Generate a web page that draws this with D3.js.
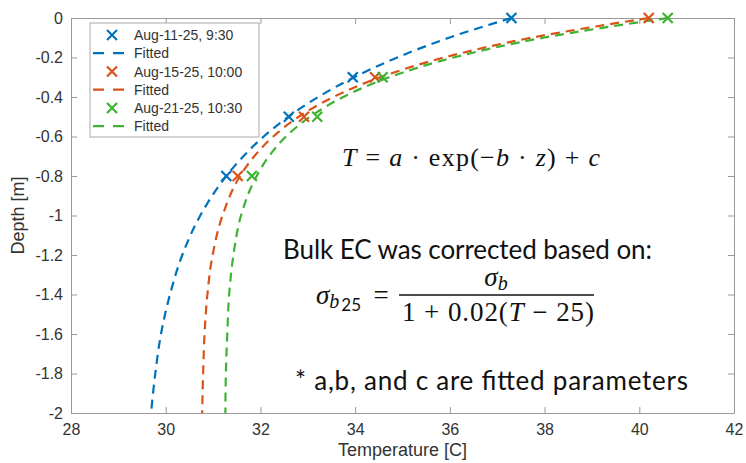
<!DOCTYPE html>
<html lang="en">

<head>
    <meta charset="utf-8">
    <title>Depth vs temperature</title>
    <script src="https://d3js.org/d3.v7.min.js"></script>
    <style type="text/css">
        body { margin: 0; background: #fff; }
        text { font-family: "Liberation Sans", Arial, sans-serif; }
    </style>
</head>

<body>
    <script type="text/javascript">

        // measured profiles (temperature C, depth m)
        var seriesNames = ["Aug-11-25, 9:30", "Aug-15-25, 10:00", "Aug-21-25, 10:30"];
        var colors = ["#0072BD", "#D95319", "#3FB234"];
        var depths = [0, -0.3, -0.5, -0.8];
        var tempAug11 = [37.3, 33.95, 32.6, 31.28];
        var tempAug15 = [40.2, 34.42, 32.92, 31.52];
        var tempAug21 = [40.6, 34.58, 33.2, 31.82];

        // fitted curves
        var fitDepths = [0, -0.1, -0.2, -0.3, -0.4, -0.5, -0.6, -0.7, -0.8, -1.0, -1.2, -1.4, -1.6, -1.8, -2.0];
        var fitAug11 = [37.30, 35.98, 34.89, 33.98, 33.22, 32.59, 32.07, 31.64, 31.28, 30.73, 30.35, 30.09, 29.90, 29.78, 29.69];
        var fitAug15 = [40.20, 37.72, 35.88, 34.53, 33.54, 32.81, 32.27, 31.87, 31.57, 31.20, 30.99, 30.88, 30.82, 30.79, 30.77];
        var fitAug21 = [40.60, 37.97, 36.08, 34.72, 33.75, 33.05, 32.54, 32.18, 31.92, 31.59, 31.43, 31.34, 31.30, 31.27, 31.26];

        var xTicks = [28, 30, 32, 34, 36, 38, 40, 42];
        var yTicks = [0, -0.2, -0.4, -0.6, -0.8, -1, -1.2, -1.4, -1.6, -1.8, -2];

        var w = 746;
        var h = 463;
        // plot box
        var pLeft = 71, pRight = 734, pTop = 18, pBottom = 413;

        var measured = [tempAug11, tempAug15, tempAug21];
        var fitted = [fitAug11, fitAug15, fitAug21];

        var svg = d3.select("body")
            .append("svg")
            .attr("width", w)
            .attr("height", h);

        var x = d3.scaleLinear().domain([28, 42]).range([pLeft, pRight]);
        var y = d3.scaleLinear().domain([-2, 0]).range([pBottom, pTop]);

        // axes (ticks inward, box on)
        var axisColor = "#999";
        var textColor = "#333";

        function styleAxis(g) {
            g.select(".domain").attr("stroke", axisColor);
            g.selectAll(".tick line").attr("stroke", axisColor);
            g.selectAll(".tick text").attr("fill", textColor)
                .style("font-size", "16px")
                .style("font-family", "'Liberation Sans', Arial, sans-serif");
        }

        svg.append("g")
            .attr("transform", "translate(0," + pBottom + ")")
            .call(d3.axisBottom(x).tickValues(xTicks).tickSizeInner(-6).tickSizeOuter(0).tickPadding(11)
                .tickFormat(d3.format("d")))
            .call(styleAxis);

        svg.append("g")
            .attr("transform", "translate(0," + pTop + ")")
            .call(d3.axisTop(x).tickValues(xTicks).tickSizeInner(-6).tickSizeOuter(0).tickFormat(""))
            .call(styleAxis);

        svg.append("g")
            .attr("transform", "translate(" + pLeft + ",0)")
            .call(d3.axisLeft(y).tickValues(yTicks).tickSizeInner(-6).tickSizeOuter(0).tickPadding(8)
                .tickFormat(function (d) { return d === 0 ? "0" : String(d); }))
            .call(styleAxis);

        svg.append("g")
            .attr("transform", "translate(" + pRight + ",0)")
            .call(d3.axisRight(y).tickValues(yTicks).tickSizeInner(-6).tickSizeOuter(0).tickFormat(""))
            .call(styleAxis);

        svg.append("text")
            .attr("x", (pLeft + pRight) / 2)
            .attr("y", 456)
            .attr("text-anchor", "middle")
            .attr("fill", textColor)
            .style("font-size", "18px")
            .text("Temperature [C]");

        svg.append("text")
            .attr("transform", "translate(24," + ((pTop + pBottom) / 2) + ") rotate(-90)")
            .attr("text-anchor", "middle")
            .attr("fill", textColor)
            .style("font-size", "18px")
            .text("Depth [m]");

        var line = d3.line()
            .x(function (d) { return x(d[0]); })
            .y(function (d) { return y(d[1]); })
            .curve(d3.curveMonotoneY);

        function cross(g, cx, cy, color, s) {
            g.append("path")
                .attr("d", "M" + (cx - s) + "," + (cy - s) + "L" + (cx + s) + "," + (cy + s) +
                    "M" + (cx - s) + "," + (cy + s) + "L" + (cx + s) + "," + (cy - s))
                .attr("stroke", color)
                .attr("stroke-width", 2.2)
                .attr("fill", "none");
        }

        var plot = svg.append("g");

        for (var i = 0; i < 3; i++) {
            var pts = fitDepths.map(function (d, k) { return [fitted[i][k], d]; });
            plot.append("path")
                .datum(pts)
                .attr("d", line)
                .attr("fill", "none")
                .attr("stroke", colors[i])
                .attr("stroke-width", 2.2)
                .attr("stroke-dasharray", "9,6");
        }

        for (var i = 0; i < 3; i++) {
            for (var k = 0; k < depths.length; k++) {
                cross(plot, x(measured[i][k]), y(depths[k]), colors[i], 5);
            }
        }

        // legend
        var lg = svg.append("g");
        lg.append("rect")
            .attr("x", 90).attr("y", 23)
            .attr("width", 169).attr("height", 114)
            .attr("fill", "#fff")
            .attr("stroke", "#aaa")
            .attr("stroke-width", 1);

        for (var i = 0; i < 3; i++) {
            var ym = 35 + i * 36.5;
            var yf = ym + 18.2;
            cross(lg, 112, ym, colors[i], 5);
            lg.append("line")
                .attr("x1", 93).attr("x2", 126)
                .attr("y1", yf).attr("y2", yf)
                .attr("stroke", colors[i])
                .attr("stroke-width", 2.2)
                .attr("stroke-dasharray", "11,9");
            lg.append("text").attr("x", 134).attr("y", ym + 5)
                .attr("fill", textColor).style("font-size", "14px")
                .text(seriesNames[i]);
            lg.append("text").attr("x", 134).attr("y", yf + 5)
                .attr("fill", textColor).style("font-size", "14px")
                .text("Fitted");
        }

        // annotations
        var serif = "'Liberation Serif', 'DejaVu Serif', serif";
        var ink = "#111";

        var eq = svg.append("text")
            .attr("x", 342).attr("y", 166)
            .attr("fill", ink)
            .attr("textLength", 258)
            .attr("lengthAdjust", "spacing")
            .style("font-family", serif)
            .style("font-size", "26px");
        eq.append("tspan").style("font-style", "italic").text("T");
        eq.append("tspan").text(" = ");
        eq.append("tspan").style("font-style", "italic").text("a");
        eq.append("tspan").text(" \u00B7 exp(\u2212");
        eq.append("tspan").style("font-style", "italic").text("b");
        eq.append("tspan").text(" \u00B7 ");
        eq.append("tspan").style("font-style", "italic").text("z");
        eq.append("tspan").text(") + ");
        eq.append("tspan").style("font-style", "italic").text("c");

        svg.append("text")
            .attr("x", 283).attr("y", 259)
            .attr("fill", ink)
            .attr("textLength", 369)
            .attr("lengthAdjust", "spacing")
            .style("font-family", "Lato, 'Open Sans', sans-serif")
            .style("font-size", "26px")
            .text("Bulk EC was corrected based on:");

        // sigma_b25 = sigma_b / (1 + 0.02(T - 25))
        var lhs = svg.append("text")
            .attr("x", 316).attr("y", 304)
            .attr("fill", ink)
            .style("font-family", serif)
            .style("font-size", "27px");
        lhs.append("tspan").style("font-style", "italic").text("\u03C3");
        lhs.append("tspan").attr("dy", 4).style("font-size", "20px").style("font-style", "italic").text("b");
        lhs.append("tspan").attr("dy", 3).attr("dx", 2)
            .style("font-family", "Lato, sans-serif").style("font-size", "17px").text("25");

        svg.append("text")
            .attr("x", 381).attr("y", 304)
            .attr("text-anchor", "middle")
            .attr("fill", ink)
            .style("font-family", serif)
            .style("font-size", "27px")
            .text("=");

        var num = svg.append("text")
            .attr("x", 496).attr("y", 286)
            .attr("text-anchor", "middle")
            .attr("fill", ink)
            .style("font-family", serif)
            .style("font-size", "27px");
        num.append("tspan").style("font-style", "italic").text("\u03C3");
        num.append("tspan").attr("dy", 4).style("font-size", "20px").style("font-style", "italic").text("b");

        svg.append("line")
            .attr("x1", 399).attr("x2", 594)
            .attr("y1", 295).attr("y2", 295)
            .attr("stroke", ink).attr("stroke-width", 1.5);

        var den = svg.append("text")
            .attr("x", 402).attr("y", 321)
            .attr("fill", ink)
            .attr("textLength", 192)
            .attr("lengthAdjust", "spacing")
            .style("font-family", serif)
            .style("font-size", "27px");
        den.append("tspan").text("1 + 0.02(");
        den.append("tspan").style("font-style", "italic").text("T");
        den.append("tspan").text(" \u2212 25)");

        svg.append("text")
            .attr("x", 295).attr("y", 390)
            .attr("fill", ink)
            .attr("textLength", 393)
            .attr("lengthAdjust", "spacing")
            .style("font-family", "Lato, 'Open Sans', sans-serif")
            .style("font-size", "26px")
            .text("* a,b, and c are fitted parameters");
    </script>
</body>

</html>
